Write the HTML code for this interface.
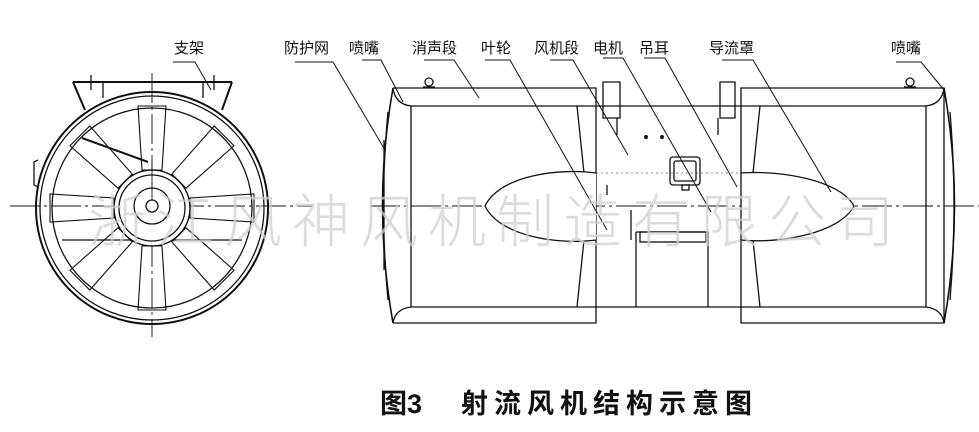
<!DOCTYPE html>
<html><head><meta charset="utf-8"><style>
html,body{margin:0;padding:0;background:#fff;}
svg{display:block}
text{font-family:"Liberation Sans","Noto Sans CJK SC",sans-serif;}
</style></head><body>
<svg width="979" height="432" viewBox="0 0 979 432" xmlns="http://www.w3.org/2000/svg">
<g fill="none" stroke="#111" stroke-width="1.3">
<!-- LEFT VIEW -->
<line x1="10" y1="206" x2="312" y2="206" stroke-width="0.9" stroke-dasharray="30,4,3,4"/>
<line x1="152" y1="73" x2="152" y2="337" stroke-width="0.9" stroke-dasharray="30,4,3,4"/>
<path d="M73 82 L232 82 M73 82 L85 110 M232 82 L222 110" stroke-width="2"/>
<line x1="103" y1="82" x2="103" y2="98"/><line x1="203" y1="82" x2="203" y2="98"/>
<line x1="91" y1="75" x2="91" y2="90"/><line x1="214" y1="75" x2="214" y2="90"/>
<circle cx="152" cy="208" r="116" stroke-width="2"/>
<circle cx="152" cy="208" r="112"/>
<circle cx="152" cy="208" r="100"/>
<path d="M38 160 L34 162 L34 185 L38 187"/>
<g stroke-width="1.1">
<g id="bl">
<polygon points="142,170 162,170 166,106 138,106"/>
</g>
<use href="#bl" transform="rotate(45 152 208)"/>
<use href="#bl" transform="rotate(90 152 208)"/>
<use href="#bl" transform="rotate(135 152 208)"/>
<use href="#bl" transform="rotate(180 152 208)"/>
<use href="#bl" transform="rotate(225 152 208)"/>
<use href="#bl" transform="rotate(270 152 208)"/>
<use href="#bl" transform="rotate(315 152 208)"/>
</g>
<path d="M82 138 L148 162" stroke-width="2"/>
<line x1="62" y1="240" x2="242" y2="240"/>
<circle cx="152" cy="208" r="38" fill="#fff" stroke-width="1.5"/>
<circle cx="152" cy="208" r="33"/>
<circle cx="152" cy="206" r="18"/>
<circle cx="152" cy="206" r="6"/>
<line x1="152" y1="160" x2="152" y2="200" stroke-width="0.9"/>

<!-- SIDE VIEW -->
<line x1="370" y1="206" x2="979" y2="206" stroke-width="0.9" stroke-dasharray="30,4,3,4"/>
<path d="M393 88 L596 88 L596 323 L393 323"/>
<path d="M411 106 L596 106 M411 307 L596 307 M411 106 L411 307"/>
<path d="M393 88 Q395 104 411 106 M393 323 Q395 309 411 307"/>
<path d="M393 88 Q372 206 393 323" stroke-width="1.6"/>
<path d="M388 112 Q379 206 388 300 M384 140 L384 270"/>
<path d="M577 106 L584 173 M584 240 L577 307"/>
<circle cx="429" cy="82" r="4"/><line x1="423" y1="87" x2="435" y2="87"/>
<path d="M596 106 L741 106 M596 307 L741 307"/>
<path d="M603 82 L620 82 L620 118 L603 118 Z M617 118 L617 135"/>
<path d="M720 82 L735 82 L735 118 L720 118 Z M718 118 L718 135"/>
<rect x="670" y="157" width="30" height="28" rx="3"/>
<rect x="674" y="161" width="22" height="20" rx="2"/>
<rect x="682" y="185" width="7" height="5"/>
<circle cx="646" cy="137" r="1.3" fill="#111"/><circle cx="662" cy="137" r="1.3" fill="#111"/>
<path d="M636 232 L708 232 L708 307 M636 232 L636 307"/>
<rect x="640" y="232" width="66" height="10"/>
<line x1="631" y1="210" x2="631" y2="240"/>
<line x1="607" y1="185" x2="607" y2="195"/>
<path d="M596 173 C560 168 500 175 485 206 C500 237 560 245 596 240" fill="#fff"/>
<path d="M741 173 C780 170 840 180 854 206 C840 233 780 244 741 240" fill="#fff"/>
<path d="M596 173 L741 173" stroke-width="0.6" stroke-dasharray="2,3"/>
<path d="M741 88 L944 88 L944 323 L741 323 Z"/>
<path d="M741 106 L926 106 M741 307 L926 307 M926 106 L926 307"/>
<path d="M944 88 Q942 104 926 106 M944 323 Q942 309 926 307"/>
<path d="M944 88 Q965 206 944 323" stroke-width="1.6"/>
<path d="M950 112 Q958 206 950 300"/>
<path d="M760 106 L753 173 M753 240 L760 307"/>
<circle cx="910" cy="82" r="4"/><line x1="904" y1="87" x2="916" y2="87"/>
</g>

<g fill="none" stroke="#111" stroke-width="1">
<path d="M173 62 L195 62 L211 90"/>
<path d="M295 62 L333 62 L385 150"/>
<path d="M362 60 L381 60 L403 102"/>
<path d="M424 60 L454 60 L479 98"/>
<path d="M485 60 L510 60 L607 230"/>
<path d="M550 60 L573 60 L628 155"/>
<path d="M603 58 L623 58 L711 212"/>
<path d="M644 58 L665 58 L737 187"/>
<path d="M722 60 L753 60 L831 192"/>
<path d="M896 62 L921 62 L944 90"/>
</g>
<!-- watermark on top -->
<text x="88" y="242" font-size="58" fill="#cfcfcf" fill-opacity="0.75" letter-spacing="10" font-family="'Noto Sans CJK SC',sans-serif" font-weight="300">浙江风神风机制造有限公司</text>
<g font-size="15" fill="#111">
<text x="174" y="53">支架</text>
<text x="284" y="53">防护网</text>
<text x="349" y="53">喷嘴</text>
<text x="412" y="53">消声段</text>
<text x="481" y="53">叶轮</text>
<text x="534" y="53">风机段</text>
<text x="593" y="53">电机</text>
<text x="639" y="53">吊耳</text>
<text x="709" y="53">导流罩</text>
<text x="891" y="53">喷嘴</text>
</g>
<text x="380" y="413" font-size="27" font-weight="bold" fill="#111">图3</text>
<text x="461" y="413" font-size="27" font-weight="bold" fill="#111" letter-spacing="6">射流风机结构示意图</text>
</svg>
</body></html>
